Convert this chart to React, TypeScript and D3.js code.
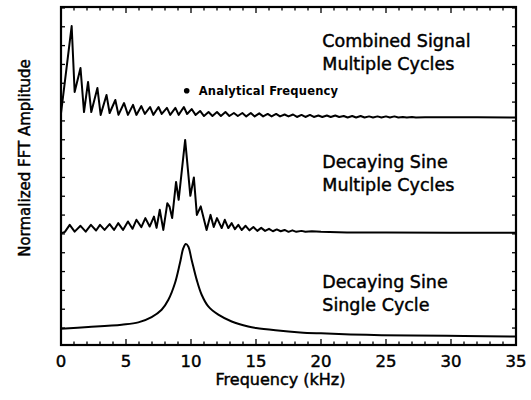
import React from "react";
import * as d3 from "d3";

// Frequency axis (kHz)
const xTickLabels = [0, 5, 10, 15, 20, 25, 30, 35];
const xMinorTicks = d3.range(0, 36, 1);
// Vertical reference ticks (arbitrary normalized units)
const yTicks = d3.range(0, 18, 1);

// Combined signal, multiple cycles: [frequency kHz, offset amplitude]
const combinedFreq = [0.0, 0.82, 1.05, 1.5, 1.77, 2.08, 2.33, 2.8, 3.05, 3.5, 3.74, 4.18, 4.42, 4.85, 5.15, 5.54, 5.8, 6.18, 6.45, 6.85, 7.1, 7.5, 7.75, 8.15, 8.4, 8.8, 9.05, 9.45, 9.7, 10.05, 10.35, 10.7, 11.0, 11.35, 11.65, 12.0, 12.3, 12.65, 12.95, 13.3, 13.6, 13.95, 14.25, 14.6, 14.9, 15.25, 15.55, 15.9, 16.2, 16.55, 16.85, 17.2, 17.5, 17.85, 18.15, 18.5, 18.8, 19.15, 19.45, 19.8, 20.1, 20.45, 20.75, 21.1, 21.4, 21.75, 22.05, 22.4, 22.7, 23.05, 23.35, 23.7, 24.0, 24.35, 24.65, 25.0, 25.3, 25.65, 25.95, 26.3, 26.6, 27.0, 27.3, 28.0, 30.0, 32.0, 35.0];
const combinedAmp = [11.4, 16.04, 12.54, 13.81, 11.47, 13.07, 11.47, 12.75, 11.32, 12.38, 11.42, 12.11, 11.32, 11.95, 11.32, 11.85, 11.32, 11.79, 11.37, 11.74, 11.32, 11.74, 11.37, 11.69, 11.32, 11.69, 11.32, 11.74, 11.37, 11.63, 11.32, 11.53, 11.26, 11.47, 11.26, 11.47, 11.26, 11.47, 11.26, 11.42, 11.26, 11.42, 11.24, 11.42, 11.24, 11.4, 11.24, 11.37, 11.24, 11.37, 11.24, 11.34, 11.24, 11.34, 11.21, 11.32, 11.21, 11.32, 11.21, 11.29, 11.21, 11.29, 11.21, 11.29, 11.21, 11.26, 11.18, 11.26, 11.18, 11.26, 11.18, 11.24, 11.18, 11.24, 11.18, 11.24, 11.18, 11.24, 11.18, 11.21, 11.18, 11.21, 11.18, 11.2, 11.19, 11.19, 11.18];

// Decaying sine, multiple cycles
const multiFreq = [0.0, 0.3, 0.67, 1.05, 1.5, 1.9, 2.3, 2.7, 3.0, 3.35, 3.74, 4.08, 4.4, 4.77, 5.15, 5.5, 5.8, 6.18, 6.49, 6.82, 7.15, 7.35, 7.6, 7.87, 8.18, 8.35, 8.55, 8.85, 9.05, 9.55, 9.95, 10.22, 10.45, 10.75, 11.2, 11.5, 11.75, 12.0, 12.36, 12.6, 12.87, 13.13, 13.38, 13.64, 13.9, 14.2, 14.5, 14.8, 15.1, 15.4, 15.7, 16.0, 16.3, 16.6, 16.9, 17.2, 17.5, 17.8, 18.1, 18.5, 18.8, 19.3, 20.0, 22.0, 25.0, 30.0, 35.0];
const multiAmp = [5.03, 5.11, 5.48, 5.12, 5.43, 5.12, 5.48, 5.18, 5.48, 5.21, 5.52, 5.21, 5.57, 5.21, 5.66, 5.27, 5.75, 5.36, 5.84, 5.39, 5.92, 5.32, 6.28, 5.21, 6.63, 6.45, 5.84, 7.76, 6.81, 9.99, 7.02, 8.0, 6.01, 6.46, 5.21, 6.01, 5.37, 5.84, 5.31, 5.75, 5.31, 5.57, 5.25, 5.48, 5.21, 5.43, 5.19, 5.37, 5.16, 5.32, 5.16, 5.27, 5.14, 5.24, 5.14, 5.21, 5.11, 5.19, 5.11, 5.16, 5.11, 5.14, 5.11, 5.08, 5.08, 5.06, 5.06];

// Decaying sine, single cycle
const singleFreq = [0.0, 2.1, 4.67, 5.95, 6.97, 7.74, 8.26, 8.77, 9.15, 9.41, 9.6, 9.79, 10.05, 10.44, 10.82, 11.33, 12.1, 13.13, 14.4, 15.0, 16.5, 18.4, 20.0, 23.5, 27.0, 31.0, 35.0];
const singleAmp = [-0.04, 0.05, 0.18, 0.3, 0.58, 0.97, 1.5, 2.39, 3.45, 4.24, 4.47, 4.33, 3.62, 2.56, 1.77, 1.15, 0.71, 0.35, 0.08, 0.0, -0.12, -0.23, -0.28, -0.36, -0.4, -0.42, -0.45];

const analyticalFrequency = 9.67;
const analyticalMarkerLevel = 12.6;

const curveLabels = [
  { lines: ["Combined Signal", "Multiple Cycles"], level: 14.9 },
  { lines: ["Decaying Sine", "Multiple Cycles"], level: 8.5 },
  { lines: ["Decaying Sine", "Single Cycle"], level: 2.15 },
];

const W = 531;
const H = 400;
const margin = { left: 61, right: 15, top: 7, bottom: 55 };
const FONT = "'DejaVu Sans', 'Liberation Sans', sans-serif";

export default function App() {
  const x = d3.scaleLinear().domain([0, 35]).range([margin.left, W - margin.right]);
  const y = d3.scaleLinear().domain([-0.9, 17.05]).range([H - margin.bottom, margin.top]);

  const mkLine = (curve: d3.CurveFactory) =>
    d3
      .line<[number, number]>()
      .x((d) => x(d[0]))
      .y((d) => y(d[1]))
      .curve(curve);

  const zip = (a: number[], b: number[]) => a.map((v, i) => [v, b[i]] as [number, number]);
  const jagged = mkLine(d3.curveLinear);
  const smooth = mkLine(d3.curveCatmullRom.alpha(0.5));

  const x0 = margin.left;
  const x1 = W - margin.right;
  const y0 = margin.top;
  const y1 = H - margin.bottom;

  // slightly heavier glyphs for all captions
  const heavy = { stroke: "#000", strokeWidth: 0.45 };

  return (
    <svg
      width={W}
      height={H}
      style={{ position: "absolute", left: 0, top: 0, background: "#fff" }}
      fontFamily={FONT}
    >
      {/* minor / major ticks on bottom and top */}
      {xMinorTicks.map((t) => {
        const major = t % 5 === 0;
        const len = major ? 6 : 3.5;
        return (
          <g key={"xt" + t} stroke="#000" strokeWidth={1.3}>
            <line x1={x(t)} x2={x(t)} y1={y1} y2={y1 - len} />
            <line x1={x(t)} x2={x(t)} y1={y0} y2={y0 + len} />
          </g>
        );
      })}
      {/* ticks on left and right */}
      {yTicks.map((t) => (
        <g key={"yt" + t} stroke="#000" strokeWidth={1.3}>
          <line x1={x0} x2={x0 + 4} y1={y(t)} y2={y(t)} />
          <line x1={x1} x2={x1 - 4} y1={y(t)} y2={y(t)} />
        </g>
      ))}
      <rect x={x0} y={y0} width={x1 - x0} height={y1 - y0} fill="none" stroke="#000" strokeWidth={2.2} />

      {/* spectra */}
      <path d={jagged(zip(combinedFreq, combinedAmp)) || ""} fill="none" stroke="#000" strokeWidth={2} strokeLinejoin="round" />
      <path d={jagged(zip(multiFreq, multiAmp)) || ""} fill="none" stroke="#000" strokeWidth={2} strokeLinejoin="round" />
      <path d={smooth(zip(singleFreq, singleAmp)) || ""} fill="none" stroke="#000" strokeWidth={2} strokeLinejoin="round" />

      {/* analytical frequency marker */}
      <circle cx={x(analyticalFrequency)} cy={y(analyticalMarkerLevel)} r={2.8} fill="#000" />
      <text
        x={x(analyticalFrequency) + 12}
        y={y(analyticalMarkerLevel) + 4}
        fontSize={11.5}
        fontWeight="bold"
        letterSpacing={0.2}
        fontFamily="'DejaVu Sans', sans-serif"
      >
        Analytical Frequency
      </text>

      {/* curve captions */}
      {curveLabels.map((c, i) => (
        <text key={"cl" + i} x={x(20.1)} y={y(c.level)} fontSize={17.5} {...heavy}>
          {c.lines.map((ln, j) => (
            <tspan key={j} x={x(20.1)} dy={j === 0 ? 0 : 23}>
              {ln}
            </tspan>
          ))}
        </text>
      ))}

      {/* tick labels */}
      {xTickLabels.map((t) => (
        <text key={"xl" + t} x={x(t)} y={y1 + 22} fontSize={16.5} textAnchor="middle" {...heavy}>
          {t}
        </text>
      ))}
      <text x={(x0 + x1) / 2 - 8} y={y1 + 40} fontSize={16} textAnchor="middle" {...heavy}>
        Frequency (kHz)
      </text>
      <text
        transform={`translate(30, ${(y0 + y1) / 2 - 18}) rotate(-90)`}
        fontSize={15}
        textAnchor="middle"
        {...heavy}
      >
        Normalized FFT Amplitude
      </text>
    </svg>
  );
}
